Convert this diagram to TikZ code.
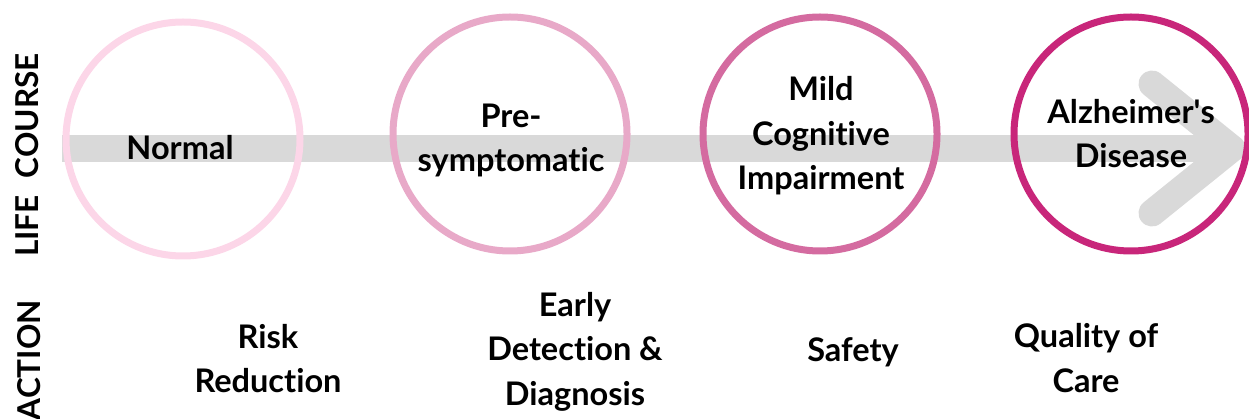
\documentclass[tikz,border=0pt]{standalone}
\usepackage{fontspec}
\setmainfont{Lato}[Ligatures={NoCommon,NoRare}]
\definecolor{cnorm}{RGB}{252,214,232}
\definecolor{cpre}{RGB}{232,169,200}
\definecolor{cmci}{RGB}{212,107,160}
\definecolor{cad}{RGB}{200,38,122}
\definecolor{cbar}{RGB}{217,217,217}
\begin{document}
\begin{tikzpicture}[x=1pt,y=-1pt,
  stage/.style={circle,line width=7pt,minimum size=234pt,inner sep=0pt},
  lbl/.style={font=\fontsize{32.5}{44.5}\selectfont\bfseries,align=center,inner sep=0pt,anchor=base},
  side/.style={font=\fontsize{31.5}{36}\selectfont\bfseries,rotate=90,inner sep=0pt,anchor=base east},
  bar/.style={cbar,line width=27pt},
  chev/.style={cbar,line width=27pt,line cap=round,line join=round}]
\useasboundingbox (0,0) rectangle (1249,419);
% arrow
\coordinate (as) at (62,148.5);
\coordinate (ae) at (1232,148.5);
\coordinate (cu) at (1152,84);
\coordinate (cl) at (1152,213);
\draw[bar] (as) -- (ae);
\draw[chev] (cu) -- (ae) -- (cl);
% circles
\node[stage,draw=cnorm] (n1) at (183,139) {};
\node[stage,draw=cpre] (n2) at (510,134) {};
\node[stage,draw=cmci] (n3) at (820,134) {};
\node[stage,draw=cad] (n4) at (1131,134) {};
% stage texts (anchored at the baseline of the last line)
\node[lbl] (t1) at (180,160) {Normal};
\node[lbl] (t2) at (511,172) {Pre-\\symptomatic};
\node[lbl] (t3) at (821,190) {Mild\\Cognitive\\Impairment};
\node[lbl] (t4) at (1131,168) {Alzheimer\textquotesingle s\\Disease};
% actions
\node[lbl] (a1) at (268,392.5) {Risk\\Reduction};
\node[lbl] (a2) at (575,405) {Early\\Detection \&\\Diagnosis};
\node[lbl] (a3) at (853,361) {Safety};
\node[lbl] (a4) at (1086,392) {Quality of\\Care};
% side labels
\node[side] (s1) at (38,155) [anchor=base] {LIFE\hspace{0.3em} COURSE};
\node[side] (s2) at (40,300) {ACTION};
\end{tikzpicture}
\end{document}
